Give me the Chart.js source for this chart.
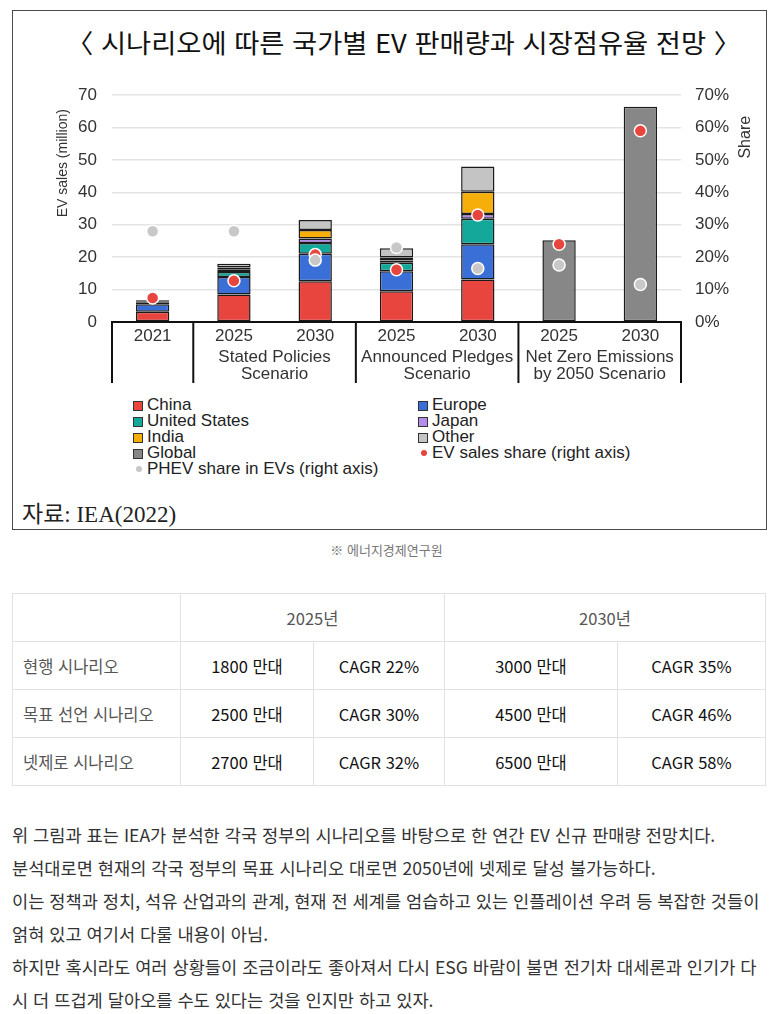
<!DOCTYPE html>
<html lang="ko">
<head>
<meta charset="utf-8">
<script src="https://cdn.jsdelivr.net/npm/chart.js@4.4.1/dist/chart.umd.min.js"></script>
<style>
  body { margin: 0; background: #fff; }
  #page { position: relative; width: 773px; height: 1014px; overflow: hidden; }
  #box { position: absolute; left: 12px; top: 10px; width: 755px; height: 520px; border: 1px solid #4a4a4a; box-sizing: border-box; }
  #title { position: absolute; left: 66px; top: 23px; white-space: nowrap; font: 26px "Noto Sans CJK KR", sans-serif; color: #111; transform: scaleX(1.05); transform-origin: left center; }
  #chartWrap { position: absolute; left: 12px; top: 70px; width: 755px; height: 325px; }
  #legend { position: absolute; left: 0; top: 0; font: 17px "Liberation Sans", Arial, sans-serif; color: #222; }
  .lg { position: absolute; white-space: nowrap; line-height: 16px; }
  .sq { position: absolute; width: 8px; height: 8px; border: 1px solid #333; top: 4px; left: -14px; }
  .dot { position: absolute; width: 6px; height: 6px; border-radius: 50%; top: 5px; left: -11px; }
  #source { position: absolute; left: 22px; top: 495px; font: 23px "Liberation Serif", "Noto Sans CJK KR", serif; color: #222; }
  #caption { position: absolute; left: 0; width: 773px; top: 540px; text-align: center; font: 13px "Noto Sans CJK KR", sans-serif; color: #777; }
  table { position: absolute; left: 12px; top: 593px; border-collapse: collapse; font: 16.5px "Noto Sans CJK KR", sans-serif; table-layout: fixed; }
  td { border: 1px solid #e2e2e2; height: 47px; padding: 0; text-align: center; color: #111; }
  td.rl { text-align: left; padding-left: 10px; color: #555; }
  td.hd { color: #555; }
  #text { position: absolute; left: 12px; top: 818px; font: 17.6px "Noto Sans CJK KR", sans-serif; color: #333; line-height: 33px; white-space: nowrap; }
</style>
</head>
<body>
<div id="page">
  <div id="box"></div>
  <div id="title">〈 시나리오에 따른 국가별 EV 판매량과 시장점유율 전망 〉</div>
  <div id="chartWrap"><canvas id="evChart" width="755" height="325"></canvas></div>
  <div id="legend"></div>
  <div id="source">자료: IEA(2022)</div>
  <div id="caption">※ 에너지경제연구원</div>
  <table>
    <colgroup><col style="width:168px"><col style="width:133px"><col style="width:131px"><col style="width:173px"><col style="width:148px"></colgroup>
    <tr><td class="hd"></td><td class="hd" colspan="2">2025년</td><td class="hd" colspan="2">2030년</td></tr>
    <tr><td class="rl">현행 시나리오</td><td>1800 만대</td><td>CAGR 22%</td><td>3000 만대</td><td>CAGR 35%</td></tr>
    <tr><td class="rl">목표 선언 시나리오</td><td>2500 만대</td><td>CAGR 30%</td><td>4500 만대</td><td>CAGR 46%</td></tr>
    <tr><td class="rl">넷제로 시나리오</td><td>2700 만대</td><td>CAGR 32%</td><td>6500 만대</td><td>CAGR 58%</td></tr>
  </table>
  <div id="text">
    위 그림과 표는 IEA가 분석한 각국 정부의 시나리오를 바탕으로 한 연간 EV 신규 판매량 전망치다.<br>
    분석대로면 현재의 각국 정부의 목표 시나리오 대로면 2050년에 넷제로 달성 불가능하다.<br>
    이는 정책과 정치, 석유 산업과의 관계, 현재 전 세계를 엄습하고 있는 인플레이션 우려 등 복잡한 것들이<br>
    얽혀 있고 여기서 다룰 내용이 아님.<br>
    하지만 혹시라도 여러 상황들이 조금이라도 좋아져서 다시 ESG 바람이 불면 전기차 대세론과 인기가 다<br>
    시 더 뜨겁게 달아오를 수도 있다는 것을 인지만 하고 있자.
  </div>
</div>
<script>
// categories
const years = ['2021', '2025', '2030', '2025', '2030', '2025', '2030'];
const scenarioNames = [[''], ['Stated Policies', 'Scenario'], ['Announced Pledges', 'Scenario'], ['Net Zero Emissions', 'by 2050 Scenario']];
const scenarioSpans = [1, 2, 2, 2];

// EV sales, million
const china = [3.2, 8.5, 12.6, 9.5, 13.1, null, null];
const europe = [2.3, 5.4, 8.5, 6.2, 10.9, null, null];
const unitedStates = [0.6, 1.5, 3.3, 2.6, 7.9, null, null];
const japan = [0.1, 0.7, 1.4, 0.7, 1.4, null, null];
const india = [0.05, 0.7, 2.6, 0.9, 6.9, null, null];
const other = [0.45, 1.2, 3.1, 2.9, 7.8, null, null];
const global = [null, null, null, null, null, 25.2, 66.4];

// shares, %
const evShare = [7.4, 12.7, 20.8, 16.1, 33.0, 24.0, 59.0];
const phevShare = [28.0, 28.0, 19.1, 23.0, 16.5, 17.6, 11.6];

const leftTicks = [0, 10, 20, 30, 40, 50, 60, 70];

const font = "'Liberation Sans', Arial, sans-serif";

function barSet(label, data, color) {
    return {
        type: 'bar',
        label: label,
        data: data,
        backgroundColor: color,
        borderColor: '#1b1b1b',
        borderWidth: 1.5,
        borderSkipped: false,
        stack: 'ev',
        order: 2,
        yAxisID: 'y',
        barPercentage: 0.41,
        categoryPercentage: 1
    };
}

function dotSet(label, data, color, order) {
    return {
        type: 'line',
        label: label,
        data: data,
        showLine: false,
        pointRadius: 6,
        pointBackgroundColor: color,
        pointBorderColor: '#fff',
        pointBorderWidth: 1.5,
        yAxisID: 'y1',
        order: order
    };
}

const datasets = [
    barSet('China', china, '#e8453f'),
    barSet('Europe', europe, '#3b6fd8'),
    barSet('United States', unitedStates, '#13a89a'),
    barSet('Japan', japan, '#b48cec'),
    barSet('India', india, '#f6ae0b'),
    barSet('Other', other, '#c4c4c4'),
    barSet('Global', global, '#878787'),
    dotSet('EV sales share (right axis)', evShare, '#e8453f', 1),
    dotSet('PHEV share in EVs (right axis)', phevShare, '#c8c8c8', 0)
];

// scenario boxes under the x axis + axis titles
const extrasPlugin = {
    id: 'extras',
    afterDraw(chart) {
        const ctx = chart.ctx;
        const area = chart.chartArea;
        const x = chart.scales.x;
        const step = x.getPixelForValue(1) - x.getPixelForValue(0);
        ctx.save();
        ctx.fillStyle = '#333';
        ctx.font = '17px ' + font;
        ctx.textAlign = 'center';
        ctx.textBaseline = 'middle';
        let idx = 0;
        const edges = [x.getPixelForValue(0) - step / 2];
        scenarioSpans.forEach(function (span, g) {
            const left = x.getPixelForValue(idx) - step / 2;
            const right = x.getPixelForValue(idx + span - 1) + step / 2;
            edges.push(right);
            scenarioNames[g].forEach(function (line, k) {
                ctx.fillText(line, (left + right) / 2, area.bottom + 35 + k * 17);
            });
            idx += span;
        });
        ctx.strokeStyle = '#111';
        ctx.lineWidth = 2;
        edges.forEach(function (e) {
            ctx.beginPath();
            ctx.moveTo(e, area.bottom);
            ctx.lineTo(e, area.bottom + 61);
            ctx.stroke();
        });

        ctx.font = '14px ' + font;
        ctx.translate(area.left - 49, area.top + 68);
        ctx.rotate(-Math.PI / 2);
        ctx.fillText('EV sales (million)', 0, 0);
        ctx.restore();

        ctx.save();
        ctx.fillStyle = '#333';
        ctx.font = '16px ' + font;
        ctx.textAlign = 'center';
        ctx.textBaseline = 'middle';
        ctx.translate(area.right + 65, area.top + 42);
        ctx.rotate(-Math.PI / 2);
        ctx.fillText('Share', 0, 0);
        ctx.restore();
    }
};

const myChart = new Chart(document.getElementById('evChart'), {
    data: { labels: years, datasets: datasets },
    options: {
        responsive: false,
        devicePixelRatio: 1,
        animation: false,
        layout: { padding: { top: 14, bottom: 0, left: 0, right: 0 } },
        plugins: { legend: { display: false }, tooltip: { enabled: false } },
        scales: {
            x: {
                stacked: true,
                offset: true,
                grid: { display: false, drawTicks: false },
                border: { display: true, color: '#111', width: 2 },
                ticks: { color: '#333', font: { family: font, size: 17 }, padding: 4, maxRotation: 0 },
                afterFit: function (s) { s.height = 73; }
            },
            y: {
                stacked: true,
                min: 0,
                max: 70,
                afterBuildTicks: function (s) { s.ticks = leftTicks.map(function (v) { return { value: v }; }); },
                grid: { color: '#e4e4e4', lineWidth: 1.5, drawTicks: false },
                border: { display: false },
                ticks: { color: '#333', font: { family: font, size: 17 }, padding: 15 },
                afterFit: function (s) { s.width = 100; }
            },
            y1: {
                position: 'right',
                min: 0,
                max: 70,
                afterBuildTicks: function (s) { s.ticks = leftTicks.map(function (v) { return { value: v }; }); },
                grid: { display: false, drawTicks: false },
                border: { display: false },
                ticks: {
                    color: '#333',
                    font: { family: font, size: 17 },
                    padding: 14,
                    callback: function (v) { return v + '%'; }
                },
                afterFit: function (s) { s.width = 86; }
            }
        }
    },
    plugins: [extrasPlugin]
});

// legend in two columns, built from the datasets
const legendElem = document.getElementById('legend');
const legendPos = [
    [147, 397], [432, 397],
    [147, 413], [432, 413],
    [147, 429], [432, 429],
    [147, 445], [432, 445],
    [147, 461]
];
const legendOrder = [0, 1, 2, 3, 4, 5, 6, 7, 8];
legendOrder.forEach(function (di, i) {
    const ds = myChart.data.datasets[di];
    const item = document.createElement('div');
    item.className = 'lg';
    item.style.left = legendPos[i][0] + 'px';
    item.style.top = legendPos[i][1] + 'px';
    const mark = document.createElement('span');
    if (ds.type === 'bar') {
        mark.className = 'sq';
        mark.style.background = ds.backgroundColor;
    } else {
        mark.className = 'dot';
        mark.style.background = ds.pointBackgroundColor;
    }
    item.appendChild(mark);
    item.appendChild(document.createTextNode(ds.label));
    legendElem.appendChild(item);
});
</script>
</body>
</html>
